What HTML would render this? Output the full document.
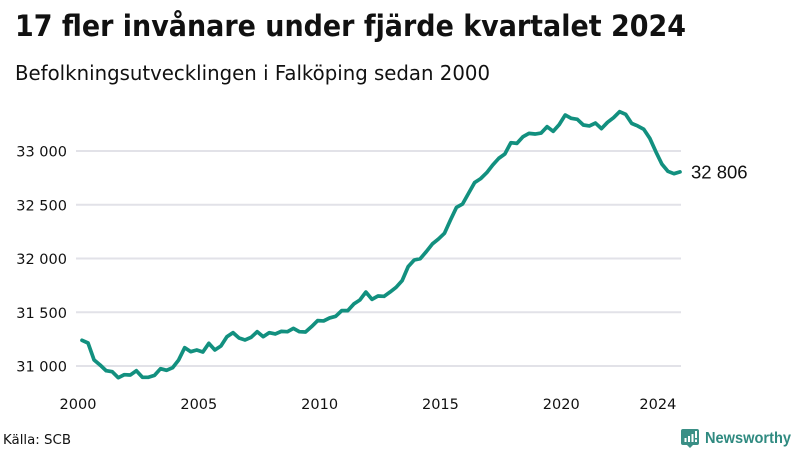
<!DOCTYPE html>
<html lang="sv">
<head>
<meta charset="utf-8">
<title>17 fler invånare under fjärde kvartalet 2024</title>
<style>
html,body{margin:0;padding:0;background:#fff;width:800px;height:450px;overflow:hidden}
svg{display:block}
text{font-family:"DejaVu Sans","Liberation Sans",sans-serif;fill:#111}
</style>
</head>
<body>
<svg id="chart" width="800" height="450" viewBox="0 0 800 450" xmlns="http://www.w3.org/2000/svg">
  <text x="15" y="36" font-size="29.5" font-weight="700" textLength="671" lengthAdjust="spacingAndGlyphs">17 fler invånare under fjärde kvartalet 2024</text>
  <text x="15" y="80" font-size="20.5" textLength="475" lengthAdjust="spacingAndGlyphs">Befolkningsutvecklingen i Falköping sedan 2000</text>
  <g id="grid"></g>
  <g id="yticks"></g>
  <g id="xticks"></g>
  <path id="line" fill="none" stroke="#12907f" stroke-width="3.7" stroke-linejoin="round" stroke-linecap="round"></path>
  <text id="endlabel" x="691" font-size="18.5" style="font-family:'Liberation Sans',sans-serif"></text>
  <text x="3" y="444" font-size="13.5" textLength="68" lengthAdjust="spacingAndGlyphs">Källa: SCB</text>
  <g>
    <path fill="#3a8f86" d="M683 429h14a2 2 0 0 1 2 2v12a2 2 0 0 1-2 2h-4l-3 3-3-3h-4a2 2 0 0 1-2-2v-12a2 2 0 0 1 2-2z"></path>
    <path fill="#fff" d="M684.500 438h2v4h-2zM688 436h2v6h-2zM691.500 434h2v8h-2zM695 431h2v7h-2zM695 439.500h2v2.500h-2z"></path>
    <text x="705" y="443" font-size="15.5" font-weight="700" textLength="86" lengthAdjust="spacingAndGlyphs" style="font-family:'Liberation Sans',sans-serif;fill:#2f8a80">Newsworthy</text>
  </g>
</svg>
<script>
const quarterlyPopulation = [
  31239,31214,31056,31009,30956,30947,30891,30919,30916,30956,
  30895,30895,30913,30975,30960,30984,31056,31170,31133,31149,
  31130,31211,31149,31186,31273,31310,31260,31242,31267,31319,
  31273,31310,31298,31322,31319,31350,31319,31316,31366,31422,
  31419,31447,31462,31515,31515,31577,31614,31688,31620,31651,
  31648,31688,31732,31794,31924,31986,31998,32064,32135,32181,
  32234,32358,32476,32507,32607,32706,32743,32798,32870,32932,
  32972,33077,33071,33133,33164,33158,33167,33226,33183,33245,
  33335,33304,33295,33242,33233,33260,33208,33267,33310,33366,
  33341,33257,33233,33202,33118,32994,32879,32811,32789,32806
];
const yTickValues = [31000,31500,32000,32500,33000];
const yTickLabels = ["31 000","31 500","32 000","32 500","33 000"];
const xTickYears = [2000,2005,2010,2015,2020,2024];
const startYear = 2000;
const lastValueLabel = "32 806";

const svgNS = "http://www.w3.org/2000/svg";
function xScale(i){ return 82 + (680 - 82) * i / (quarterlyPopulation.length - 1); }
function yScale(v){ return 366 - (v - 31000) * (215 / 2000); }

const grid = document.getElementById("grid");
const yticks = document.getElementById("yticks");
yTickValues.forEach(function(v, k){
  const ln = document.createElementNS(svgNS, "line");
  
  
  ln.setAttribute("x1", 76);
  ln.setAttribute("x2", 681);
  ln.setAttribute("y1", yScale(v));
  ln.setAttribute("y2", yScale(v));
  ln.setAttribute("stroke", "#e2e2e8");
  ln.setAttribute("stroke-width", "2");
  grid.appendChild(ln);
  const t = document.createElementNS(svgNS, "text");
  
  
  t.setAttribute("x", 67);
  t.setAttribute("y", yScale(v) + 5.5);
  t.setAttribute("text-anchor", "end");
  t.setAttribute("font-size", "14.5");
  t.textContent = yTickLabels[k];
  yticks.appendChild(t);
});

const xticks = document.getElementById("xticks");
xTickYears.forEach(function(y){
  const t = document.createElementNS(svgNS, "text");
  
  
  t.setAttribute("x", xScale((y - startYear) * 4) - 4);
  t.setAttribute("y", 409);
  t.setAttribute("text-anchor", "middle");
  t.setAttribute("font-size", "14.5");
  t.textContent = y;
  xticks.appendChild(t);
});

document.getElementById("line").setAttribute("d",
  quarterlyPopulation.map(function(v, i){
    return (i ? "L" : "M") + xScale(i).toFixed(2) + " " + yScale(v).toFixed(2);
  }).join(""));

const endLabel = document.getElementById("endlabel");
endLabel.setAttribute("y", yScale(quarterlyPopulation[quarterlyPopulation.length - 1]) + 6.5);
endLabel.textContent = lastValueLabel;
</script>
</body>
</html>
